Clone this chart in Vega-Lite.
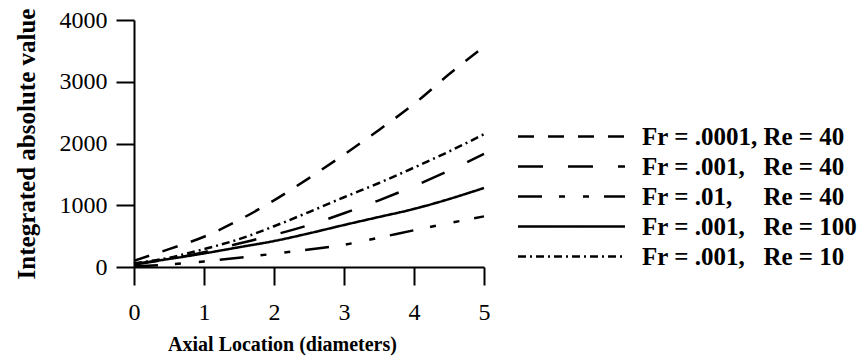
{
  "$schema": "https://vega.github.io/schema/vega-lite/v6.json",
  "width": 350,
  "height": 247,
  "autosize": {"type": "none"},
  "padding": {"left": 134, "top": 20, "right": 380, "bottom": 95},
  "background": "white",
  "config": {"view": {"stroke": null}, "font": "Liberation Serif"},
  "data": {"values": [
    {"series": "Fr = .0001,\u00a0Re = 40", "x": 0, "y": 100},
    {"series": "Fr = .0001,\u00a0Re = 40", "x": 0.5, "y": 290},
    {"series": "Fr = .0001,\u00a0Re = 40", "x": 1, "y": 490},
    {"series": "Fr = .0001,\u00a0Re = 40", "x": 1.5, "y": 760},
    {"series": "Fr = .0001,\u00a0Re = 40", "x": 2, "y": 1080},
    {"series": "Fr = .0001,\u00a0Re = 40", "x": 2.5, "y": 1440},
    {"series": "Fr = .0001,\u00a0Re = 40", "x": 3, "y": 1820},
    {"series": "Fr = .0001,\u00a0Re = 40", "x": 3.5, "y": 2220},
    {"series": "Fr = .0001,\u00a0Re = 40", "x": 4, "y": 2640},
    {"series": "Fr = .0001,\u00a0Re = 40", "x": 4.5, "y": 3120},
    {"series": "Fr = .0001,\u00a0Re = 40", "x": 5, "y": 3570},
    {"series": "Fr = .001,\u00a0\u00a0\u00a0Re = 40", "x": 0, "y": 40},
    {"series": "Fr = .001,\u00a0\u00a0\u00a0Re = 40", "x": 0.5, "y": 130},
    {"series": "Fr = .001,\u00a0\u00a0\u00a0Re = 40", "x": 1, "y": 240},
    {"series": "Fr = .001,\u00a0\u00a0\u00a0Re = 40", "x": 1.5, "y": 380},
    {"series": "Fr = .001,\u00a0\u00a0\u00a0Re = 40", "x": 2, "y": 520},
    {"series": "Fr = .001,\u00a0\u00a0\u00a0Re = 40", "x": 2.5, "y": 680},
    {"series": "Fr = .001,\u00a0\u00a0\u00a0Re = 40", "x": 3, "y": 870},
    {"series": "Fr = .001,\u00a0\u00a0\u00a0Re = 40", "x": 3.5, "y": 1080},
    {"series": "Fr = .001,\u00a0\u00a0\u00a0Re = 40", "x": 4, "y": 1310},
    {"series": "Fr = .001,\u00a0\u00a0\u00a0Re = 40", "x": 4.5, "y": 1560},
    {"series": "Fr = .001,\u00a0\u00a0\u00a0Re = 40", "x": 5, "y": 1830},
    {"series": "Fr = .01,\u00a0\u00a0\u00a0\u00a0\u00a0Re = 40", "x": 0, "y": 10},
    {"series": "Fr = .01,\u00a0\u00a0\u00a0\u00a0\u00a0Re = 40", "x": 0.5, "y": 40},
    {"series": "Fr = .01,\u00a0\u00a0\u00a0\u00a0\u00a0Re = 40", "x": 1, "y": 90},
    {"series": "Fr = .01,\u00a0\u00a0\u00a0\u00a0\u00a0Re = 40", "x": 1.5, "y": 150},
    {"series": "Fr = .01,\u00a0\u00a0\u00a0\u00a0\u00a0Re = 40", "x": 2, "y": 215},
    {"series": "Fr = .01,\u00a0\u00a0\u00a0\u00a0\u00a0Re = 40", "x": 2.5, "y": 285},
    {"series": "Fr = .01,\u00a0\u00a0\u00a0\u00a0\u00a0Re = 40", "x": 3, "y": 360},
    {"series": "Fr = .01,\u00a0\u00a0\u00a0\u00a0\u00a0Re = 40", "x": 3.5, "y": 475},
    {"series": "Fr = .01,\u00a0\u00a0\u00a0\u00a0\u00a0Re = 40", "x": 4, "y": 595},
    {"series": "Fr = .01,\u00a0\u00a0\u00a0\u00a0\u00a0Re = 40", "x": 4.5, "y": 710},
    {"series": "Fr = .01,\u00a0\u00a0\u00a0\u00a0\u00a0Re = 40", "x": 5, "y": 820},
    {"series": "Fr = .001,\u00a0\u00a0\u00a0Re = 100", "x": 0, "y": 50},
    {"series": "Fr = .001,\u00a0\u00a0\u00a0Re = 100", "x": 0.5, "y": 130},
    {"series": "Fr = .001,\u00a0\u00a0\u00a0Re = 100", "x": 1, "y": 220},
    {"series": "Fr = .001,\u00a0\u00a0\u00a0Re = 100", "x": 1.5, "y": 320},
    {"series": "Fr = .001,\u00a0\u00a0\u00a0Re = 100", "x": 2, "y": 420},
    {"series": "Fr = .001,\u00a0\u00a0\u00a0Re = 100", "x": 2.5, "y": 545},
    {"series": "Fr = .001,\u00a0\u00a0\u00a0Re = 100", "x": 3, "y": 680},
    {"series": "Fr = .001,\u00a0\u00a0\u00a0Re = 100", "x": 3.5, "y": 810},
    {"series": "Fr = .001,\u00a0\u00a0\u00a0Re = 100", "x": 4, "y": 940},
    {"series": "Fr = .001,\u00a0\u00a0\u00a0Re = 100", "x": 4.5, "y": 1100},
    {"series": "Fr = .001,\u00a0\u00a0\u00a0Re = 100", "x": 5, "y": 1280},
    {"series": "Fr = .001,\u00a0\u00a0\u00a0Re = 10", "x": 0, "y": 60},
    {"series": "Fr = .001,\u00a0\u00a0\u00a0Re = 10", "x": 0.5, "y": 150},
    {"series": "Fr = .001,\u00a0\u00a0\u00a0Re = 10", "x": 1, "y": 290},
    {"series": "Fr = .001,\u00a0\u00a0\u00a0Re = 10", "x": 1.5, "y": 450},
    {"series": "Fr = .001,\u00a0\u00a0\u00a0Re = 10", "x": 2, "y": 660},
    {"series": "Fr = .001,\u00a0\u00a0\u00a0Re = 10", "x": 2.5, "y": 890},
    {"series": "Fr = .001,\u00a0\u00a0\u00a0Re = 10", "x": 3, "y": 1130},
    {"series": "Fr = .001,\u00a0\u00a0\u00a0Re = 10", "x": 3.5, "y": 1360},
    {"series": "Fr = .001,\u00a0\u00a0\u00a0Re = 10", "x": 4, "y": 1610},
    {"series": "Fr = .001,\u00a0\u00a0\u00a0Re = 10", "x": 4.5, "y": 1870},
    {"series": "Fr = .001,\u00a0\u00a0\u00a0Re = 10", "x": 5, "y": 2150}
  ]},
  "mark": {"type": "line", "color": "black", "strokeWidth": 2.5, "interpolate": "monotone"},
  "encoding": {
    "x": {
      "field": "x", "type": "quantitative",
      "scale": {"domain": [0, 5], "nice": false},
      "axis": {
        "values": [0, 0.5, 1, 1.5, 2, 2.5, 3, 3.5, 4, 4.5, 5],
        "format": "d",
        "labelExpr": "datum.value % 1 === 0 ? datum.label : ''",
        "tickSize": {"condition": {"test": "datum.value % 1 === 0", "value": 18}, "value": 10},
        "grid": false,
        "domainColor": "black", "domainWidth": 2,
        "tickColor": "black", "tickWidth": 2,
        "labelFont": "Liberation Serif", "labelFontSize": 24, "labelColor": "black", "labelPadding": 15,
        "labelFlush": false,
        "title": "Axial Location (diameters)",
        "titleFont": "Liberation Serif", "titleFontSize": 20, "titleFontWeight": "bold", "titleColor": "black", "titlePadding": 10,
        "titleX": 148, "titleAlign": "center"
      }
    },
    "y": {
      "field": "y", "type": "quantitative",
      "scale": {"domain": [0, 4000], "nice": false},
      "axis": {
        "values": [0, 1000, 2000, 3000, 4000],
        "format": "d",
        "tickSize": 18,
        "grid": false,
        "domainColor": "black", "domainWidth": 2,
        "tickColor": "black", "tickWidth": 2,
        "labelFont": "Liberation Serif", "labelFontSize": 24, "labelColor": "black", "labelPadding": 9,
        "labelFlush": false,
        "title": "Integrated absolute value",
        "titleFont": "Liberation Serif", "titleFontSize": 25, "titleFontWeight": "bold", "titleColor": "black", "titlePadding": 20
      }
    },
    "strokeDash": {
      "field": "series", "type": "nominal",
      "scale": {
        "domain": [
          "Fr = .0001,\u00a0Re = 40",
          "Fr = .001,\u00a0\u00a0\u00a0Re = 40",
          "Fr = .01,\u00a0\u00a0\u00a0\u00a0\u00a0Re = 40",
          "Fr = .001,\u00a0\u00a0\u00a0Re = 100",
          "Fr = .001,\u00a0\u00a0\u00a0Re = 10"
        ],
        "range": [[16, 14], [25, 25], [24, 17, 6, 18, 6, 15], [1, 0], [8, 4, 2, 4]]
      },
      "legend": {
        "orient": "none", "legendX": 425, "legendY": 104,
        "title": null,
        "symbolType": "M-53.5,0H53.5", "symbolSize": 4, "symbolStrokeWidth": 2.5, "symbolStrokeColor": "black",
        "labelFont": "Liberation Serif", "labelFontSize": 25, "labelFontWeight": "bold", "labelColor": "black",
        "labelOffset": 58, "labelLimit": 400, "padding": 0, "rowPadding": 4
      }
    }
  }
}
